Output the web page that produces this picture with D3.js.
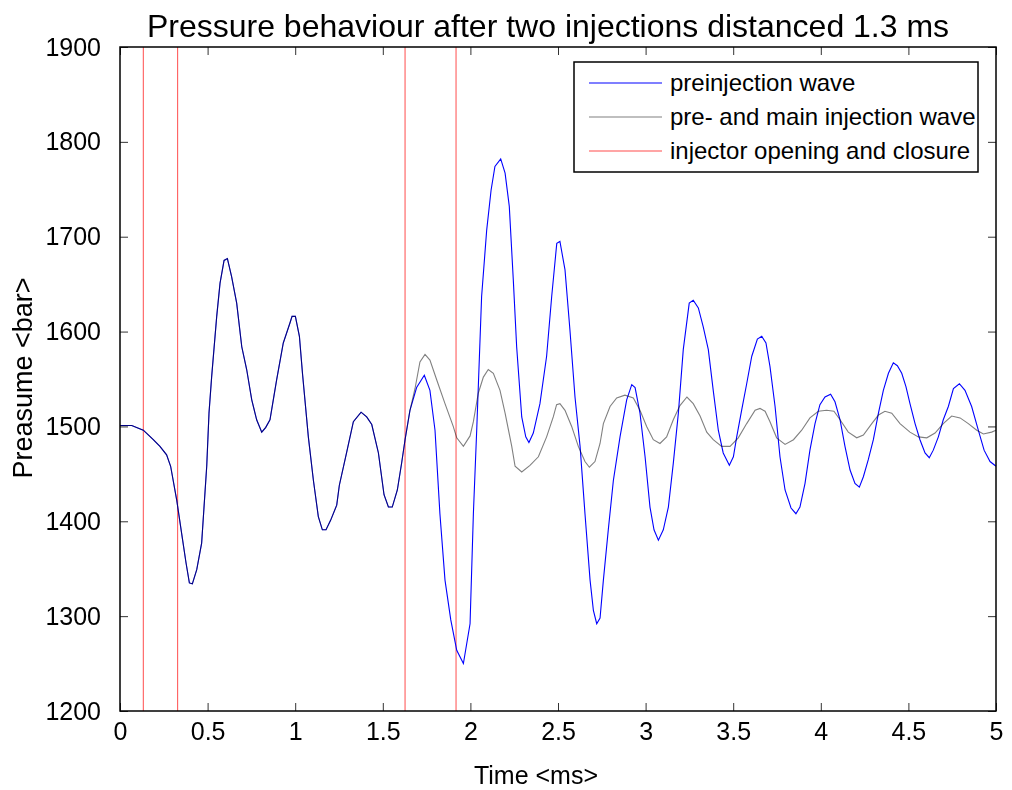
<!DOCTYPE html>
<html>
<head>
<meta charset="utf-8">
<script src="https://cdn.jsdelivr.net/npm/d3@7"></script>
<style>
  html, body { margin: 0; padding: 0; background: #fff; }
  svg { display: block; font-family: "Liberation Sans", Arial, Helvetica, sans-serif; }
</style>
</head>
<body>
<svg id="chart" width="1012" height="790"></svg>
<script>
// ---- Data ----
const titleText = "Pressure behaviour after two injections distanced 1.3 ms";
const xLabel = "Time <ms>";
const yLabel = "Preasume <bar>";

// common part of both waves (until the main injection opens)
const sharedTime = [0.000,0.067,0.133,0.190,0.228,0.266,0.289,0.324,0.352,0.377,0.396,0.413,0.438,0.466,0.495,0.508,0.523,0.552,0.571,0.594,0.613,0.637,0.666,0.695,0.723,0.752,0.780,0.809,0.832,0.856,0.875,0.894,0.932,0.970,0.982,1.001,1.024,1.042,1.075,1.104,1.132,1.155,1.176,1.202,1.237,1.252,1.294,1.332,1.376,1.408,1.437,1.475,1.507,1.532,1.554,1.583,1.608,1.627];
const sharedPressure = [1501,1501,1496,1486,1479,1470,1458,1422,1387,1356,1335,1334,1349,1377,1458,1514,1552,1616,1651,1675,1677,1658,1630,1584,1560,1528,1507,1494,1499,1507,1528,1549,1588,1609,1616,1616,1595,1555,1489,1443,1405,1391,1391,1401,1417,1438,1473,1505,1515,1510,1502,1472,1428,1415,1415,1433,1462,1486];

// preinjection wave (blue) after 1.627 ms
const preTime = [1.655,1.693,1.737,1.769,1.798,1.826,1.855,1.888,1.922,1.960,1.998,2.017,2.036,2.064,2.093,2.118,2.140,2.173,2.198,2.222,2.245,2.264,2.293,2.316,2.334,2.359,2.397,2.435,2.464,2.493,2.511,2.540,2.568,2.597,2.626,2.654,2.683,2.702,2.721,2.740,2.759,2.787,2.816,2.854,2.892,2.921,2.940,2.968,2.997,3.025,3.048,3.073,3.101,3.130,3.158,3.187,3.215,3.249,3.272,3.301,3.329,3.358,3.386,3.415,3.443,3.478,3.501,3.520,3.548,3.577,3.606,3.638,3.663,3.687,3.710,3.739,3.767,3.796,3.830,3.858,3.881,3.910,3.938,3.967,3.995,4.024,4.056,4.081,4.110,4.138,4.167,4.195,4.220,4.243,4.271,4.300,4.329,4.357,4.386,4.414,4.437,4.462,4.486,4.509,4.538,4.566,4.595,4.619,4.642,4.671,4.699,4.728,4.757,4.791,4.823,4.861,4.899,4.932,4.966,5.000];
const prePressure = [1517,1541,1554,1538,1496,1408,1338,1296,1264,1250,1292,1408,1496,1637,1707,1749,1774,1782,1767,1732,1654,1584,1510,1489,1483,1493,1524,1574,1637,1693,1695,1665,1602,1531,1479,1408,1338,1306,1292,1298,1338,1391,1443,1489,1528,1544,1541,1514,1468,1415,1391,1380,1391,1415,1461,1514,1581,1630,1633,1625,1605,1581,1538,1496,1472,1459,1468,1489,1517,1545,1574,1592,1595,1588,1563,1521,1468,1433,1414,1408,1415,1440,1475,1503,1523,1531,1534,1526,1507,1479,1454,1440,1436,1447,1465,1486,1514,1538,1556,1567,1564,1556,1542,1524,1503,1486,1472,1467,1475,1489,1507,1521,1540,1545,1538,1521,1496,1475,1463,1458];

// pre- and main injection wave (grey) after 1.627 ms
const mainTime = [1.655,1.684,1.712,1.741,1.769,1.808,1.855,1.902,1.922,1.960,1.998,2.017,2.045,2.074,2.102,2.131,2.169,2.198,2.236,2.255,2.293,2.340,2.388,2.435,2.473,2.492,2.511,2.540,2.578,2.616,2.654,2.679,2.711,2.740,2.759,2.797,2.835,2.882,2.930,2.968,3.006,3.044,3.082,3.120,3.158,3.196,3.236,3.272,3.311,3.349,3.386,3.434,3.482,3.529,3.577,3.625,3.653,3.682,3.710,3.748,3.796,3.844,3.891,3.938,3.986,4.033,4.075,4.110,4.157,4.205,4.243,4.291,4.329,4.366,4.405,4.452,4.509,4.557,4.605,4.652,4.699,4.747,4.795,4.842,4.890,4.928,4.975,5.000];
const mainPressure = [1517,1540,1568,1576,1570,1549,1524,1500,1488,1479,1490,1505,1535,1552,1560,1556,1538,1514,1479,1458,1452,1459,1468,1489,1510,1523,1524,1517,1500,1479,1463,1457,1463,1482,1503,1521,1530,1533,1530,1517,1500,1486,1482,1489,1507,1522,1531,1524,1511,1494,1486,1479,1479,1488,1503,1517,1519,1516,1505,1488,1481,1486,1496,1509,1516,1517,1516,1507,1494,1488,1491,1503,1512,1516,1514,1503,1494,1489,1488,1493,1503,1511,1509,1503,1496,1492,1494,1496];

// injector opening and closure times (ms)
const injectorEvents = [0.133, 0.329, 1.627, 1.918];

const xTicks = [0, 0.5, 1, 1.5, 2, 2.5, 3, 3.5, 4, 4.5, 5];
const yTicks = [1200, 1300, 1400, 1500, 1600, 1700, 1800, 1900];
const legendLabels = ["preinjection wave", "pre- and main injection wave", "injector opening and closure"];
const seriesColors = ["#0000ff", "#808080", "#ff4d4d"];

// ---- Layout ----
const svg = d3.select("#chart");
const plot = { left: 120, right: 996, top: 47, bottom: 711 };

const x = d3.scaleLinear().domain([0, 5]).range([plot.left, plot.right]);
const y = d3.scaleLinear().domain([1200, 1900]).range([plot.bottom, plot.top]);

const toPoints = (ts, ps) => ts.map((t, i) => [t, ps[i]]);
const blueData = toPoints(sharedTime.concat(preTime), sharedPressure.concat(prePressure));
const greyData = toPoints(sharedTime.concat(mainTime), sharedPressure.concat(mainPressure));

const line = d3.line().x(d => x(d[0])).y(d => y(d[1])).curve(d3.curveLinear);

// Axes (inward ticks on all four sides)
const tickLen = 8;
const fmt = d => String(d);

const gx = svg.append("g").attr("transform", `translate(0,${plot.bottom})`)
  .call(d3.axisBottom(x).tickValues(xTicks).tickFormat(fmt).tickSizeInner(-tickLen).tickSizeOuter(0).tickPadding(11));
const gy = svg.append("g").attr("transform", `translate(${plot.left},0)`)
  .call(d3.axisLeft(y).tickValues(yTicks).tickFormat(fmt).tickSizeInner(-tickLen).tickSizeOuter(0).tickPadding(19));
const gxt = svg.append("g").attr("transform", `translate(0,${plot.top})`)
  .call(d3.axisTop(x).tickValues(xTicks).tickFormat("").tickSizeInner(-tickLen).tickSizeOuter(0));
const gyr = svg.append("g").attr("transform", `translate(${plot.right},0)`)
  .call(d3.axisRight(y).tickValues(yTicks).tickFormat("").tickSizeInner(-tickLen).tickSizeOuter(0));

[gx, gy, gxt, gyr].forEach(g => {
  g.select(".domain").remove();
  g.selectAll(".tick line").attr("stroke", "#333").attr("stroke-width", 1);
  g.selectAll(".tick text").attr("fill", "#000").style("font-size", "25px")
    .style("font-family", '"Liberation Sans", Arial, sans-serif');
});

// Injector lines
svg.append("g").selectAll("line").data(injectorEvents).join("line")
  .attr("x1", d => x(d)).attr("x2", d => x(d))
  .attr("y1", y(1200)).attr("y2", y(1900))
  .attr("stroke", seriesColors[2]).attr("stroke-width", 1);

// Waves
svg.append("path").datum(blueData).attr("d", line)
  .attr("fill", "none").attr("stroke", seriesColors[0]).attr("stroke-width", 1.1);
svg.append("path").datum(greyData).attr("d", line)
  .attr("fill", "none").attr("stroke", seriesColors[1]).attr("stroke-width", 1.1)
  .style("mix-blend-mode", "multiply");

// Frame
svg.append("rect")
  .attr("x", plot.left).attr("y", plot.top)
  .attr("width", plot.right - plot.left).attr("height", plot.bottom - plot.top)
  .attr("fill", "none").attr("stroke", "#000").attr("stroke-width", 1.5);

// Title & axis labels
svg.append("text").attr("x", 548).attr("y", 37).attr("text-anchor", "middle")
  .style("font-size", "32px").text(titleText);
svg.append("text").attr("x", 536).attr("y", 784).attr("text-anchor", "middle")
  .style("font-size", "25px").text(xLabel);
svg.append("text").attr("transform", "translate(32,378) rotate(-90)").attr("text-anchor", "middle")
  .style("font-size", "27px").text(yLabel);

// Legend
const legend = svg.append("g");
legend.append("rect").attr("x", 574).attr("y", 62).attr("width", 404).attr("height", 110)
  .attr("fill", "#fff").attr("stroke", "#000").attr("stroke-width", 1.5);
const rowsY = [83, 117, 151];
legendLabels.forEach((lab, i) => {
  legend.append("line").attr("x1", 589).attr("x2", 662).attr("y1", rowsY[i]).attr("y2", rowsY[i])
    .attr("stroke", seriesColors[i]).attr("stroke-width", 1.1);
  legend.append("text").attr("x", 670).attr("y", rowsY[i]).attr("dy", "0.35em")
    .style("font-size", "24px").text(lab);
});
</script>
</body>
</html>
